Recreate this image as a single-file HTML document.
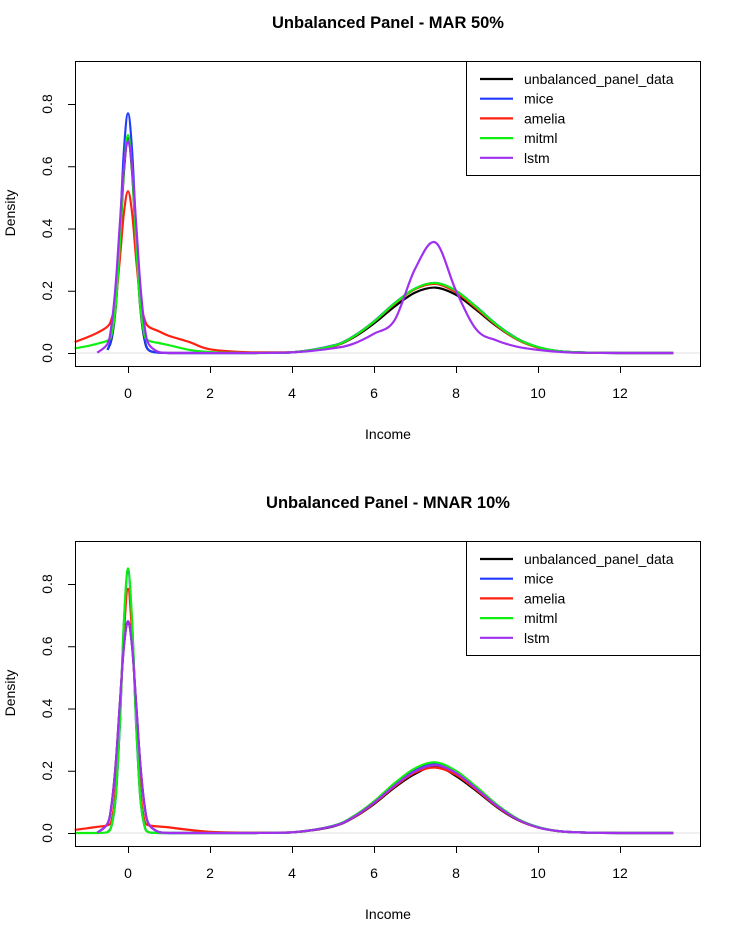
<!DOCTYPE html>
<html><head><meta charset="utf-8"><style>
body{margin:0;background:#fff}
svg text{font-family:"Liberation Sans",Arial,sans-serif;fill:#000}
</style></head><body>
<svg id="c" width="729" height="931" xmlns="http://www.w3.org/2000/svg"></svg>
<script>
const xs=[-1.3,-1,-0.75,-0.5,-0.4,-0.3,-0.2,-0.1,0,0.1,0.2,0.3,0.4,0.5,0.75,1,1.5,2,3,4,5,5.5,6,6.5,7,7.5,8,8.5,9,9.5,10,10.5,11,12,13.3];
const seriesNames=["unbalanced_panel_data","mice","amelia","mitml","lstm"];
const seriesColors=["#000000","#1f3cff","#ff2010","#10f010","#a030f0"];
const xTicks=[0,2,4,6,8,10,12];
const yTicks=[0,0.2,0.4,0.6,0.8];
const topBlack=[null,null,null,0.01,0.045,0.145,0.345,0.58,0.69,0.58,0.345,0.145,0.045,0.01,0.001,0,0,0,0,0.002,0.022,0.05,0.095,0.149,0.194,0.21,0.187,0.138,0.085,0.043,0.018,0.006,0.002,0,0];
const topMice=[null,null,null,0.01,0.05,0.16,0.385,0.65,0.77,0.65,0.385,0.16,0.05,0.01,0.001,0,0,0,0,0.002,0.024,0.054,0.102,0.16,0.207,0.225,0.2,0.148,0.091,0.046,0.019,0.006,0.002,0,0];
const topAmelia=[0.035,0.05,0.065,0.085,0.11,0.17,0.3,0.45,0.52,0.45,0.3,0.17,0.11,0.085,0.07,0.055,0.035,0.012,0.002,0.002,0.022,0.052,0.1,0.157,0.205,0.222,0.195,0.143,0.087,0.043,0.017,0.005,0.001,0,0];
const topMitml=[0.015,0.022,0.03,0.04,0.06,0.15,0.35,0.59,0.70,0.59,0.35,0.15,0.06,0.04,0.032,0.025,0.01,0.003,0,0.002,0.023,0.053,0.101,0.159,0.207,0.225,0.2,0.147,0.09,0.045,0.019,0.006,0.002,0,0];
const topLstm=[null,null,0.001,0.03,0.092,0.221,0.413,0.6,0.68,0.6,0.413,0.221,0.092,0.03,0.003,0,0,0,0,0.002,0.015,0.03,0.062,0.105,0.27,0.355,0.2,0.075,0.04,0.02,0.01,0.004,0.001,0,0];
const botBlack=[null,null,0.001,0.03,0.092,0.221,0.413,0.6,0.68,0.6,0.413,0.221,0.092,0.03,0.003,0,0,0,0,0.002,0.021,0.049,0.093,0.146,0.19,0.215,0.183,0.135,0.083,0.042,0.018,0.006,0.002,0,0];
const botMice=[null,null,null,0.003,0.024,0.113,0.344,0.672,0.84,0.672,0.344,0.113,0.024,0.003,0,0,0,0,0,0.002,0.023,0.053,0.1,0.158,0.205,0.223,0.198,0.146,0.09,0.045,0.019,0.006,0.002,0,0];
const botAmelia=[0.01,0.015,0.02,0.025,0.04,0.14,0.37,0.64,0.785,0.64,0.37,0.14,0.04,0.025,0.021,0.018,0.01,0.004,0.001,0.002,0.022,0.05,0.095,0.149,0.194,0.21,0.187,0.138,0.085,0.043,0.018,0.006,0.002,0,0];
const botMitml=[0,0,0,0.003,0.025,0.115,0.35,0.68,0.85,0.68,0.35,0.115,0.025,0.003,0,0,0,0,0,0.002,0.023,0.054,0.102,0.16,0.208,0.227,0.2,0.148,0.091,0.046,0.019,0.006,0.002,0,0];
const botLstm=[null,null,0.001,0.03,0.092,0.221,0.413,0.6,0.68,0.6,0.413,0.221,0.092,0.03,0.003,0,0,0,0,0.002,0.022,0.051,0.097,0.152,0.198,0.218,0.193,0.142,0.087,0.044,0.018,0.006,0.002,0,0];

const NS="http://www.w3.org/2000/svg";
const svg=document.getElementById('c');
function el(t,a,p){const e=document.createElementNS(NS,t);for(const k in a)e.setAttribute(k,a[k]);(p||svg).appendChild(e);return e;}
const X=v=>128+v*41;
function smoothPath(pts){
  if(!pts.length)return '';
  let d='M'+pts[0][0].toFixed(1)+','+pts[0][1].toFixed(1);
  for(let i=0;i<pts.length-1;i++){
    const p0=pts[Math.max(0,i-1)],p1=pts[i],p2=pts[i+1],p3=pts[Math.min(pts.length-1,i+2)];
    const c1x=p1[0]+(p2[0]-p0[0])/6,c1y=p1[1]+(p2[1]-p0[1])/6;
    const c2x=p2[0]-(p3[0]-p1[0])/6,c2y=p2[1]-(p3[1]-p1[1])/6;
    const lo=Math.max(p1[1],p2[1]);
    d+='C'+c1x.toFixed(1)+','+Math.min(c1y,lo+0).toFixed(1)+' '+c2x.toFixed(1)+','+Math.min(c2y,lo+0).toFixed(1)+' '+p2[0].toFixed(1)+','+p2[1].toFixed(1);
  }
  return d;
}
function panel(off,title,series,key){
  const g=el('g',{});
  
  
  const Y=v=>off+353-v*311.25;
  const t=el('text',{x:388,y:off+28,'text-anchor':'middle','font-size':'16.5','font-weight':'bold'},g);
  t.textContent=title;
  
  
  const zl=el('line',{x1:75,x2:701,y1:Y(0),y2:Y(0),stroke:'#e0e0e0','stroke-width':1},g);
  
  
  series.forEach((s,i)=>{
    const pts=[];
    s.forEach((v,j)=>{if(v!==null)pts.push([X(xs[j]),Y(v)]);});
    const p=el('path',{d:smoothPath(pts),fill:'none',stroke:seriesColors[i],'stroke-width':2.2,'stroke-linejoin':'round'},g);
    
    
  });
  const box=el('rect',{x:75.5,y:off+61.5,width:625,height:305,fill:'none',stroke:'#000'},g);
  
  
  const xa=el('g',{},g);
  
  
  el('line',{x1:X(0),x2:X(12),y1:off+366.5,y2:off+366.5,stroke:'#000'},xa);
  xTicks.forEach(v=>{
    el('line',{x1:X(v)+.5,x2:X(v)+.5,y1:off+366,y2:off+373,stroke:'#000'},xa);
    const tt=el('text',{x:X(v),y:off+398,'text-anchor':'middle','font-size':'14'},xa);
    tt.textContent=v;
  });
  const xl=el('text',{x:388,y:off+439,'text-anchor':'middle','font-size':'14'},g);
  xl.textContent='Income';
  
  
  const ya=el('g',{},g);
  
  
  el('line',{x1:75.5,x2:75.5,y1:Y(0),y2:Y(0.8),stroke:'#000'},ya);
  yTicks.forEach(v=>{
    el('line',{x1:68,x2:75,y1:Y(v)+.5,y2:Y(v)+.5,stroke:'#000'},ya);
    const tt=el('text',{x:52,y:Y(v),'text-anchor':'middle','font-size':'14',transform:`rotate(-90 52 ${Y(v)})`},ya);
    tt.textContent=v.toFixed(1);
  });
  const yl=el('text',{x:15,y:off+213,'text-anchor':'middle','font-size':'14',transform:`rotate(-90 15 ${off+213})`},g);
  yl.textContent='Density';
  
  
  const lg=el('g',{},g);
  
  
  el('rect',{x:466.5,y:off+61.5,width:234,height:114,fill:'#fff',stroke:'#000'},lg);
  seriesNames.forEach((n,i)=>{
    const yy=off+79+i*19.7;
    const e=el('g',{},lg);
    
    
    el('line',{x1:480,x2:513,y1:yy,y2:yy,stroke:seriesColors[i],'stroke-width':2.2},e);
    const tt=el('text',{x:524,y:yy+5,'font-size':'14'},e);
    tt.textContent=n;
  });
}
panel(0,'Unbalanced Panel - MAR 50%',[topBlack,topMice,topAmelia,topMitml,topLstm],'top');
panel(480,'Unbalanced Panel - MNAR 10%',[botBlack,botMice,botAmelia,botMitml,botLstm],'bottom');
</script>
</body></html>
